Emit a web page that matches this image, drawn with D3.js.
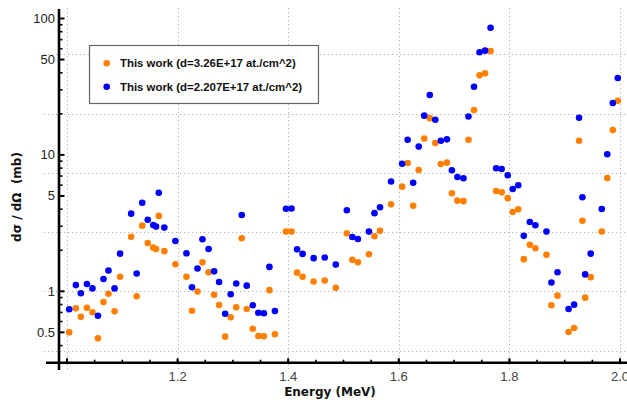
<!DOCTYPE html>
<html>
<head>
<meta charset="utf-8">
<script src="https://cdn.jsdelivr.net/npm/d3@7"></script>
<style>
  html, body { margin: 0; padding: 0; background: #fff; }
  svg { display: block; }
</style>
</head>
<body>
<svg id="chart" width="627" height="400"></svg>
<script>
// Beam energy (MeV) of each measured point
const energy = [
  1.004, 1.016, 1.025, 1.036, 1.046, 1.056, 1.066, 1.075, 1.086, 1.096,
  1.116, 1.126, 1.136, 1.146, 1.156, 1.161, 1.166, 1.176, 1.196, 1.216,
  1.226, 1.236, 1.245, 1.256, 1.266, 1.275, 1.286, 1.296, 1.306, 1.316,
  1.325, 1.336, 1.346, 1.356, 1.366, 1.376, 1.396, 1.406, 1.416, 1.426,
  1.446, 1.466, 1.486, 1.506, 1.516, 1.526, 1.546, 1.556, 1.566, 1.586,
  1.606, 1.616, 1.626, 1.636, 1.646, 1.656, 1.666, 1.676, 1.687, 1.696,
  1.706, 1.717, 1.726, 1.736, 1.746, 1.756, 1.766, 1.776, 1.786, 1.797,
  1.806, 1.816, 1.826, 1.837, 1.847, 1.867, 1.876, 1.887, 1.907, 1.917,
  1.926, 1.932, 1.937, 1.947, 1.967, 1.977, 1.987, 1.996
];

// dσ/dΩ (mb), target thickness 3.26E+17 at./cm^2
const sigmaThick = [
  0.500, 0.750, 0.651, 0.758, 0.702, 0.452, 0.835, 0.960, 0.713, 1.28,
  2.51, 0.919, 3.03, 2.26, 2.09, 2.04, 3.57, 1.97, 1.58, 1.28,
  0.721, 0.997, 1.63, 1.38, 0.943, 0.794, 0.465, 0.645, 0.763, 2.45,
  0.742, 0.532, 0.470, 0.468, 1.02, 0.484, 2.74, 2.74, 1.37, 1.28,
  1.18, 1.20, 1.06, 2.66, 1.70, 1.63, 1.87, 2.53, 2.78, 4.34,
  5.85, 8.72, 4.24, 7.75, 13.2, 18.6, 12.2, 8.58, 8.77, 5.23,
  4.62, 4.58, 12.9, 21.3, 38.3, 39.6, 57.8, 5.44, 5.32, 4.82,
  3.81, 4.00, 1.72, 2.19, 2.07, 1.85, 0.790, 0.929, 0.503, 0.538,
  12.7, 3.29, 0.898, 1.27, 2.74, 6.77, 15.2, 24.9
];

// dσ/dΩ (mb), target thickness 2.207E+17 at./cm^2
const sigmaThin = [
  0.738, 1.11, 0.967, 1.13, 1.05, 0.662, 1.23, 1.42, 1.05, 1.89,
  3.71, 1.35, 4.46, 3.35, 3.06, 2.98, 5.28, 2.93, 2.34, 1.90,
  1.07, 1.47, 2.41, 2.04, 1.40, 1.17, 0.685, 0.951, 1.14, 3.63,
  1.10, 0.790, 0.697, 0.690, 1.51, 0.717, 4.03, 4.05, 2.03, 1.88,
  1.75, 1.77, 1.57, 3.93, 2.50, 2.42, 2.74, 3.74, 4.13, 6.38,
  8.62, 12.9, 6.25, 11.5, 19.4, 27.5, 18.1, 12.7, 13.0, 7.71,
  6.89, 6.74, 19.1, 31.6, 56.5, 58.1, 85.6, 7.99, 7.88, 7.09,
  5.62, 5.99, 2.55, 3.22, 3.05, 2.74, 1.16, 1.38, 0.742, 0.798,
  18.7, 4.89, 1.33, 1.89, 4.01, 10.1, 24.0, 36.6
];

const legendLabels = [
  "This work (d=3.26E+17 at./cm^2)",
  "This work (d=2.207E+17 at./cm^2)"
];
const seriesColors = ["#ff8000", "#0000ff"];

const xMajorTicks = [1.0, 1.2, 1.4, 1.6, 1.8, 2.0];
const xTickLabels = ["", "1.2", "1.4", "1.6", "1.8", "2.0"];
const xMinorTicks = d3.range(1.0, 2.0001, 0.05);
const yMajorTicks = [0.5, 1, 5, 10, 50, 100];
const yTickLabels = ["0.5", "1", "5", "10", "50", "100"];
const yMinorTicks = [0.3, 0.4, 0.6, 0.7, 0.8, 0.9, 2, 3, 4, 6, 7, 8, 9,
                     20, 30, 40, 60, 70, 80, 90];
// grid lines sit at powers of e
const yGridLines = [-1, 0, 1, 2, 3, 4].map(k => Math.exp(k));

const svg = d3.select("#chart");

const x = d3.scaleLinear().domain([1.0, 2.0]).range([67, 620]);
const y = d3.scaleLog().domain([1, 100]).range([291.3, 18.5]);

const axisX = 59;      // vertical axis position
const axisY = 362.7;   // horizontal axis position

// dotted grid
const grid = svg.append("g")
  .attr("stroke", "#b4b4b4")
  .attr("stroke-width", 1)
  .attr("stroke-dasharray", "1.2,2.8");
grid.selectAll("line.gx").data(xMajorTicks).join("line")
  .attr("x1", d => Math.round(x(d)) + 0.5).attr("x2", d => Math.round(x(d)) + 0.5)
  .attr("y1", 8).attr("y2", 372);
grid.selectAll("line.gy").data(yGridLines).join("line")
  .attr("x1", 44).attr("x2", 627)
  .attr("y1", d => Math.round(y(d)) + 0.5).attr("y2", d => Math.round(y(d)) + 0.5);

// axes
const axes = svg.append("g").attr("stroke", "#000");
axes.append("line")
  .attr("x1", 46).attr("x2", 627).attr("y1", axisY).attr("y2", axisY)
  .attr("stroke-width", 2.6);
axes.append("line")
  .attr("x1", axisX).attr("x2", axisX).attr("y1", 9).attr("y2", 370)
  .attr("stroke-width", 2.6);

// x ticks pointing up into the plot
axes.selectAll("line.xmin").data(xMinorTicks).join("line")
  .attr("x1", d => x(d)).attr("x2", d => x(d))
  .attr("y1", axisY).attr("y2", axisY - 3)
  .attr("stroke-width", 1.6);
axes.selectAll("line.xmaj").data(xMajorTicks).join("line")
  .attr("x1", d => x(d)).attr("x2", d => x(d))
  .attr("y1", axisY).attr("y2", axisY - 4.5)
  .attr("stroke-width", 2);

// y ticks pointing right into the plot
axes.selectAll("line.ymin").data(yMinorTicks).join("line")
  .attr("x1", axisX).attr("x2", axisX + 3.5)
  .attr("y1", d => y(d)).attr("y2", d => y(d))
  .attr("stroke-width", 1.6);
axes.selectAll("line.ymaj").data(yMajorTicks).join("line")
  .attr("x1", axisX).attr("x2", axisX + 5.5)
  .attr("y1", d => y(d)).attr("y2", d => y(d))
  .attr("stroke-width", 2);

// tick labels
const tickFont = "'Liberation Sans', Arial, sans-serif";
svg.append("g").selectAll("text").data(xMajorTicks).join("text")
  .attr("x", d => x(d)).attr("y", 381)
  .attr("text-anchor", "middle")
  .attr("font-family", tickFont).attr("font-size", 13)
  .attr("fill", "#444")
  .text((d, i) => xTickLabels[i]);
svg.append("g").selectAll("text").data(yMajorTicks).join("text")
  .attr("x", 55).attr("y", d => y(d) + 4.5)
  .attr("text-anchor", "end")
  .attr("font-family", tickFont).attr("font-size", 13)
  .attr("fill", "#222")
  .text((d, i) => yTickLabels[i]);

// axis titles
svg.append("text")
  .attr("x", 330).attr("y", 396)
  .attr("text-anchor", "middle")
  .attr("font-family", "'DejaVu Sans', sans-serif")
  .attr("font-weight", "bold").attr("font-size", 12)
  .attr("fill", "#111")
  .text("Energy (MeV)");
svg.append("text")
  .attr("transform", "translate(21,197) rotate(-90)")
  .attr("text-anchor", "middle")
  .attr("font-family", "'DejaVu Sans', sans-serif")
  .attr("font-weight", "bold").attr("font-size", 12)
  .attr("fill", "#111")
  .attr("xml:space", "preserve")
  .text("dσ / dΩ  (mb)");

// data points
const series = [sigmaThick, sigmaThin];
series.forEach((vals, si) => {
  svg.append("g").selectAll("circle")
    .data(energy.map((e, i) => ({ e, v: vals[i] })))
    .join("circle")
    .attr("cx", d => x(d.e))
    .attr("cy", d => y(d.v))
    .attr("r", 3.3)
    .attr("fill", seriesColors[si]);
});

// legend
const legend = svg.append("g");
legend.append("rect")
  .attr("x", 89.5).attr("y", 45.5).attr("width", 229).attr("height", 58)
  .attr("fill", "#fff").attr("stroke", "#666").attr("stroke-width", 1.2);
legendLabels.forEach((label, i) => {
  const cy = 63.3 + i * 23.4;
  legend.append("circle")
    .attr("cx", 106.7).attr("cy", cy).attr("r", 3.3)
    .attr("fill", seriesColors[i]);
  legend.append("text")
    .attr("x", 120).attr("y", cy + 4)
    .attr("font-family", tickFont).attr("font-weight", "bold")
    .attr("font-size", 11.4).attr("fill", "#111")
    .text(label);
});
</script>
</body>
</html>
